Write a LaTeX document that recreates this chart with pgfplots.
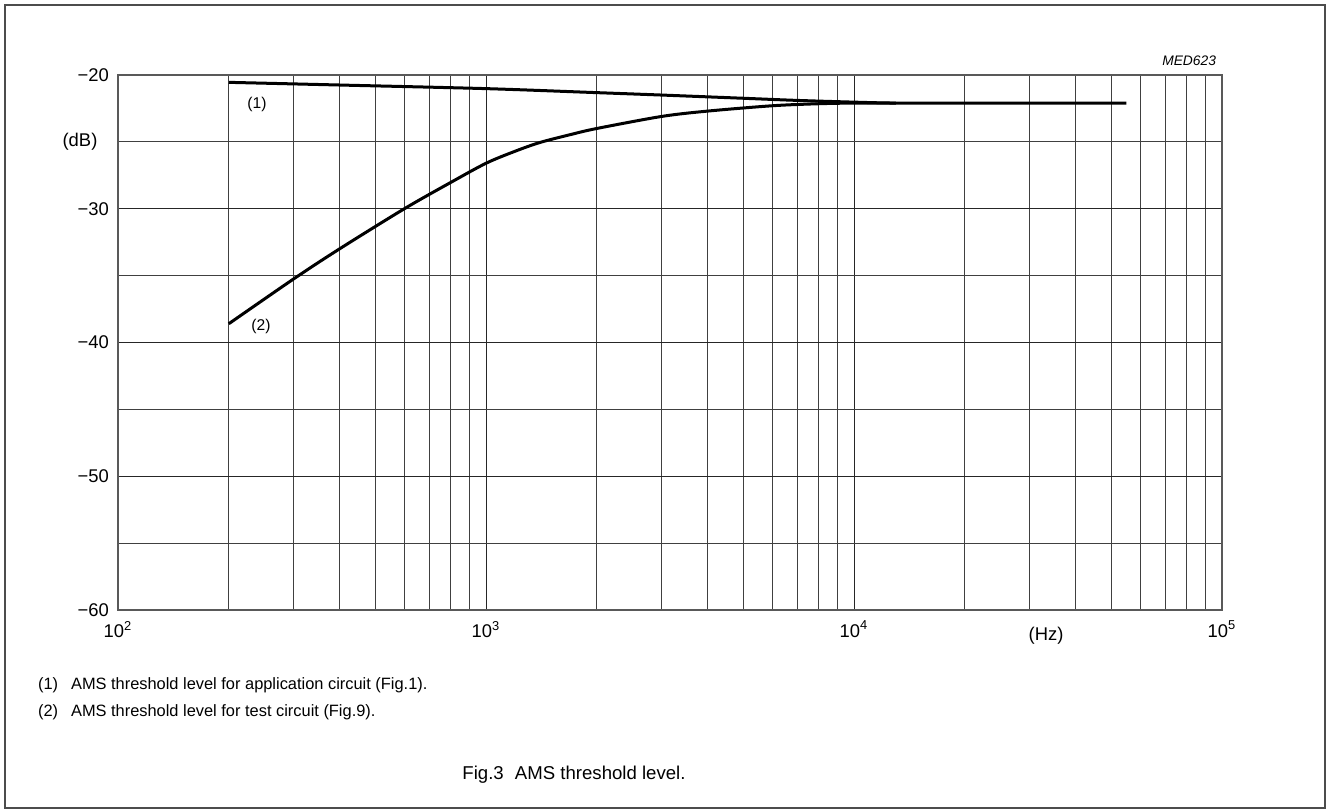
\documentclass[border=0pt]{standalone}
\usepackage{fontspec}
\setmainfont{Liberation Sans}
\usepackage{pgfplots}
\pgfplotsset{compat=1.18}
\begin{document}
\begin{tikzpicture}
% page area and outer frame
\path (0pt,0pt) rectangle (663.5pt,406pt);
\draw[line width=1pt, black!70] (2.5pt,2pt) rectangle (662.5pt,403.5pt);
\begin{semilogxaxis}[
    at={(59pt,101pt)}, anchor=south west,
    scale only axis, width=552pt, height=267.5pt,
    xmin=100, xmax=100000,
    ymin=-60, ymax=-20,
    xtick={100,1000,10000,100000},
    xticklabels={10\textsuperscript{2},10\textsuperscript{3},10\textsuperscript{4},10\textsuperscript{5}},
    ytick={-60,-50,-40,-30,-20},
    minor ytick={-55,-45,-35,-25},
    yticklabels={−60,−50,−40,−30,−20},
    grid=both,
    major grid style={black!85, line width=0.5pt},
    minor grid style={black!75, line width=0.5pt},
    major tick length=0pt, minor tick length=0pt,
    axis line style={black!65, line width=0.7pt},
    tick label style={font=\fontsize{9.2}{11}\selectfont},
    xticklabel style={yshift=-2pt},
    yticklabel style={xshift=-1pt},
]
% (1) application circuit
\addplot[black, line width=1.5pt, smooth] coordinates {
    (200,-20.55) (400,-20.75) (1000,-21.02)
    (2000,-21.32) (3000,-21.5) (5000,-21.74)
    (7000,-21.9) (10000,-22.03) (13000,-22.1) (20000,-22.1) (55000,-22.1)
};
% (2) test circuit
\addplot[black, line width=1.5pt, smooth] coordinates {
    (200,-38.6) (300,-35.25) (400,-33.0) (600,-30.0) (800,-28.05)
    (1000,-26.6) (1200,-25.7) (1400,-25.05) (1700,-24.45) (2000,-24.0)
    (3000,-23.1) (4000,-22.7) (6000,-22.3) (8000,-22.15) (10000,-22.1)
    (13000,-22.1)
};
\end{semilogxaxis}
\node[font=\fontsize{9.2}{11}\selectfont] at (40pt,335pt) {(dB)};
\node[font=\fontsize{9.2}{11}\selectfont] at (523pt,88pt) {(Hz)};
\node[font=\fontsize{6.9}{8}\selectfont\itshape, anchor=east] at (611.5pt,375.5pt) {MED623};
\node[font=\fontsize{7.8}{9}\selectfont] at (128.5pt,354pt) {(1)};
\node[font=\fontsize{7.8}{9}\selectfont] at (130.5pt,243pt) {(2)};
\node[font=\fontsize{8.2}{10}\selectfont, anchor=west] at (15.5pt,63.5pt) {(1)};
\node[font=\fontsize{8.2}{10}\selectfont, anchor=west] at (32pt,63.5pt) {AMS threshold level for application circuit (Fig.1).};
\node[font=\fontsize{8.2}{10}\selectfont, anchor=west] at (15.5pt,50pt) {(2)};
\node[font=\fontsize{8.2}{10}\selectfont, anchor=west] at (32pt,50pt) {AMS threshold level for test circuit (Fig.9).};
\node[font=\fontsize{9.3}{11}\selectfont] at (287pt,18.5pt) {Fig.3\hspace{0.6em}AMS threshold level.};
\end{tikzpicture}
\end{document}
